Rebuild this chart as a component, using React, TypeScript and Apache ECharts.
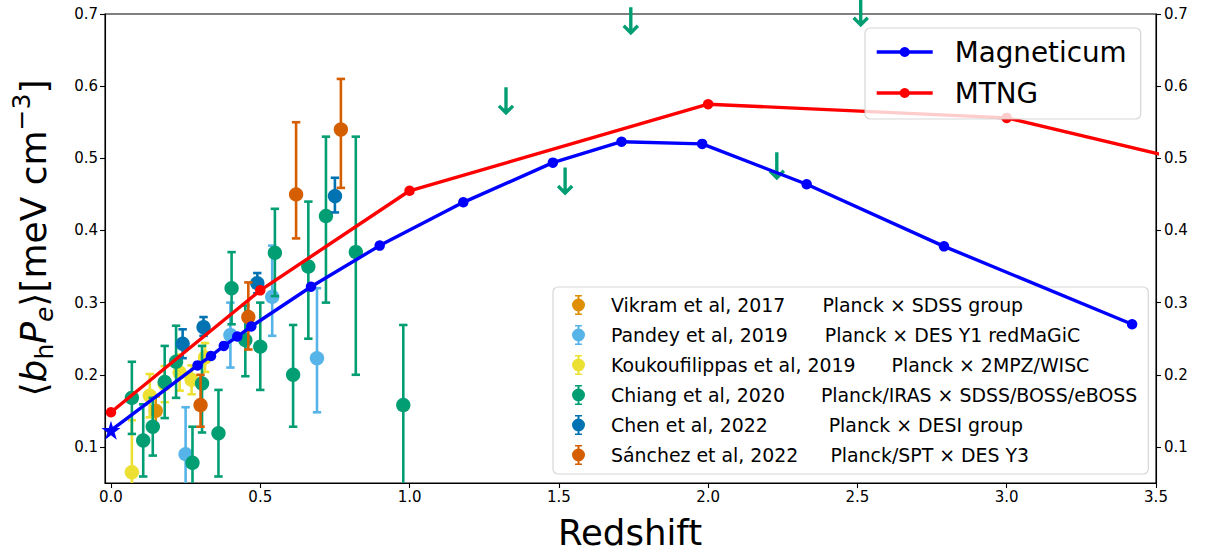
import React, { useEffect, useRef } from 'react';
import * as echarts from 'echarts';

const F = 'DejaVu Sans';

// axis ticks
const xTicks = [0, 0.5, 1.0, 1.5, 2.0, 2.5, 3.0, 3.5];
const yTicks = [0.1, 0.2, 0.3, 0.4, 0.5, 0.6, 0.7];

// simulations
const magZ = [0, 0.29, 0.335, 0.378, 0.423, 0.47, 0.67, 0.9, 1.18, 1.48, 1.71, 1.98, 2.33, 2.79, 3.42];
const magV = [0.123, 0.213, 0.226, 0.24, 0.253, 0.267, 0.322, 0.379, 0.439, 0.494, 0.523, 0.52, 0.464, 0.378, 0.27];
const mtngZ = [0, 0.5, 1.0, 2.0, 3.0, 4.0];
const mtngV = [0.148, 0.317, 0.455, 0.575, 0.556, 0.458];

// observations: redshift, value, lower error, upper error
const vikramZ = [0.15];
const vikramV = [0.15];
const vikramLo = [0.022];
const vikramHi = [0.02];

const pandeyZ = [0.25, 0.4, 0.54, 0.69];
const pandeyV = [0.09, 0.255, 0.308, 0.223];
const pandeyLo = [0.065, 0.045, 0.054, 0.075];
const pandeyHi = [0.065, 0.045, 0.071, 0.097];

const koukZ = [0.07, 0.13, 0.18, 0.23, 0.27, 0.315];
const koukV = [0.065, 0.171, 0.187, 0.203, 0.193, 0.224];
const koukLo = [0.072, 0.03, 0.025, 0.025, 0.02, 0.02];
const koukHi = [0.072, 0.03, 0.025, 0.025, 0.02, 0.02];

const chiangZ = [0.07, 0.108, 0.14, 0.18, 0.218, 0.273, 0.305, 0.36, 0.404, 0.45, 0.5, 0.549, 0.61, 0.661, 0.72, 0.82, 0.979];
const chiangV = [0.168, 0.109, 0.128, 0.19, 0.218, 0.078, 0.188, 0.119, 0.32, 0.248, 0.239, 0.369, 0.2, 0.35, 0.42, 0.37, 0.158];
const chiangLo = [0.05, 0.05, 0.04, 0.05, 0.05, 0.05, 0.068, 0.06, 0.05, 0.05, 0.06, 0.06, 0.072, 0.1, 0.12, 0.17, 0.11];
const chiangHi = [0.05, 0.05, 0.04, 0.05, 0.05, 0.05, 0.052, 0.06, 0.05, 0.048, 0.061, 0.061, 0.069, 0.09, 0.11, 0.16, 0.111];

const chenZ = [0.24, 0.31, 0.49, 0.75];
const chenV = [0.243, 0.267, 0.327, 0.449];
const chenLo = [0.02, 0.013, 0.014, 0.024];
const chenHi = [0.02, 0.013, 0.014, 0.024];

const sanchezZ = [0.3, 0.46, 0.62, 0.77];
const sanchezV = [0.158, 0.28, 0.45, 0.54];
const sanchezLo = [0.03, 0.045, 0.061, 0.081];
const sanchezHi = [0.042, 0.048, 0.1, 0.07];

// upper limits (Chiang et al.)
const limitZ = [1.323, 1.521, 1.741, 2.23, 2.511];
const limitV = [0.579, 0.468, 0.69, 0.489, 0.701];

const obsNames = [
  'Vikram et al, 2017',
  'Pandey et al, 2019',
  'Koukoufilippas et al, 2019',
  'Chiang et al, 2020',
  'Chen et al, 2022',
  'Sánchez et al, 2022',
];
const obsSurveys = [
  'Planck × SDSS group',
  'Planck × DES Y1 redMaGiC',
  'Planck × 2MPZ/WISC',
  'Planck/IRAS × SDSS/BOSS/eBOSS',
  'Planck × DESI group',
  'Planck/SPT × DES Y3',
];
const obsColors = ['#DE8F05', '#56B4E9', '#ECE133', '#029E73', '#0173B2', '#D55E00'];

const STAR = 'path://M50 0L61.17 34.63L97.55 34.55L68.07 55.87L79.39 90.45L50 69L20.61 90.45L31.93 55.87L2.45 34.55L38.83 34.63Z';
const ARROW = 'path://M6.8 0H10.2V21.6L14.4 17.4L16.8 19.8L8.5 28.1L0.2 19.8L2.6 17.4L6.8 21.6Z';
const EBAR = 'path://M5.5 0H7.5V20H5.5Z M3 0H10V1.6H3Z M3 18.4H10V20H3Z M0 10A6.5 6.5 0 1 1 13 10A6.5 6.5 0 1 1 0 10Z';

function rows(z: number[], v: number[], lo: number[], hi: number[]) {
  return z.map((zz, i) => [zz, v[i], lo[i], hi[i]]);
}

const obsData = [
  rows(vikramZ, vikramV, vikramLo, vikramHi),
  rows(pandeyZ, pandeyV, pandeyLo, pandeyHi),
  rows(koukZ, koukV, koukLo, koukHi),
  rows(chiangZ, chiangV, chiangLo, chiangHi),
  rows(chenZ, chenV, chenLo, chenHi),
  rows(sanchezZ, sanchezV, sanchezLo, sanchezHi),
];

const gapStyles = ['g37', 'g37', 'g36', 'g36', 'g61', 'g32'];

function errSeries(idx: number) {
  const color = obsColors[idx];
  return {
    type: 'custom',
    name: obsNames[idx],
    z: 2,
    clip: true,
    itemStyle: { color },
    encode: { x: 0, y: 1 },
    data: obsData[idx],
    renderItem: (params: any, api: any) => {
      const x = api.value(0);
      const y = api.value(1);
      const lo = api.value(2);
      const hi = api.value(3);
      const p = api.coord([x, y]);
      const t = api.coord([x, y + hi]);
      const b = api.coord([x, y - lo]);
      const cap = 4.2;
      return {
        type: 'group',
        children: [
          { type: 'line', shape: { x1: p[0], y1: t[1], x2: p[0], y2: b[1] }, style: { stroke: color, lineWidth: 2.6 } },
          { type: 'line', shape: { x1: p[0] - cap, y1: t[1], x2: p[0] + cap, y2: t[1] }, style: { stroke: color, lineWidth: 2.6 } },
          { type: 'line', shape: { x1: p[0] - cap, y1: b[1], x2: p[0] + cap, y2: b[1] }, style: { stroke: color, lineWidth: 2.6 } },
          { type: 'circle', shape: { cx: p[0], cy: p[1], r: 7.2 }, style: { fill: color } },
        ],
      };
    },
  };
}

export default function App() {
  const ref = useRef<HTMLDivElement>(null);
  useEffect(() => {
    if (!ref.current) return;
    const chart = echarts.init(ref.current, null, { renderer: 'svg' });
    const fmt1 = (v: number) => v.toFixed(1);
    const magData = magZ.map((z, i) =>
      i === 0 ? { value: [z, magV[i]], symbol: STAR, symbolSize: 19 } : [z, magV[i]]
    );
    const ls = 18.9;
    const rich2: any = {
      a: { fontSize: ls, fontFamily: F, color: '#000', padding: [0, 0, 0, 21] },
    };
    [32, 36, 37, 61].forEach((g) => {
      rich2['g' + g] = { fontSize: ls, fontFamily: F, color: '#000', padding: [0, 0, 0, g] };
    });
    const axisCommon = (pos: string, margin: number) => ({
      type: 'value',
      min: 0.05,
      max: 0.7,
      position: pos,
      axisLine: { show: true, onZero: false, lineStyle: { color: '#000', width: 1.1 } },
      axisTick: { show: true, inside: false, length: 5, customValues: yTicks, lineStyle: { color: '#000', width: 1.1 } },
      axisLabel: { show: true, customValues: yTicks, formatter: fmt1, color: '#000', fontSize: 15, fontFamily: F, margin },
      splitLine: { show: false },
    });
    const option: any = {
      animation: false,
      backgroundColor: '#fff',
      grid: { left: 105, right: 49, top: 14, bottom: 69, show: true, borderColor: '#000', borderWidth: 1.1, backgroundColor: 'transparent' },
      xAxis: {
        type: 'value',
        min: -0.02,
        max: 3.5,
        axisLine: { show: true, onZero: false, lineStyle: { color: '#000', width: 1.1 } },
        axisTick: { show: true, inside: false, length: 5, customValues: xTicks, lineStyle: { color: '#000', width: 1.1 } },
        axisLabel: { show: true, customValues: xTicks, formatter: fmt1, color: '#000', fontSize: 15, fontFamily: F, margin: 6 },
        splitLine: { show: false },
      },
      yAxis: [axisCommon('left', 7), axisCommon('right', 8)],
      legend: [
        {
          orient: 'vertical',
          left: 865,
          top: 28,
          padding: [10, 14, 12, 10],
          itemGap: 13,
          itemWidth: 56,
          itemHeight: 12.5,
          selectedMode: false,
          backgroundColor: 'rgba(255,255,255,0.8)',
          borderColor: 'rgba(204,204,204,0.8)',
          borderWidth: 1.2,
          borderRadius: 5,
          lineStyle: { width: 3.4 },
          data: ['Magneticum', 'MTNG'],
          formatter: (n: string) => `{a|${n}}`,
          textStyle: {
            fontSize: 27.8,
            fontFamily: F,
            color: '#000',
            rich: { a: { fontSize: 27.8, fontFamily: F, color: '#000', padding: [0, 0, 0, 17] } },
          },
        },
        {
          orient: 'vertical',
          left: 553,
          top: 287,
          padding: [8, 11, 9, 19],
          itemGap: 10,
          itemWidth: 13,
          itemHeight: 20,
          selectedMode: false,
          backgroundColor: 'rgba(255,255,255,0.8)',
          borderColor: 'rgba(204,204,204,0.8)',
          borderWidth: 1.2,
          borderRadius: 5,
          data: obsNames.map((n) => ({ name: n, icon: EBAR })),
          formatter: (n: string) => {
            const i = obsNames.indexOf(n);
            return `{a|${n}}{${gapStyles[i]}|${obsSurveys[i]}}`;
          },
          textStyle: { fontSize: ls, fontFamily: F, color: '#000', rich: rich2 },
        },
      ],
      graphic: [
        {
          type: 'text',
          x: 33,
          y: 238,
          rotation: Math.PI / 2,
          style: {
            text: '{n|⟨}{i|b}{sb|h}{i|P}{si|e}{n|⟩[meV cm}{sp|−3}{n|]}',
            align: 'center',
            verticalAlign: 'middle',
            fill: '#000',
            fontSize: 36,
            fontFamily: F,
            rich: {
              n: { fontSize: 36, fontFamily: F, fill: '#000', lineHeight: 48 },
              i: { fontSize: 36, fontFamily: F, fontStyle: 'italic', fill: '#000', lineHeight: 48 },
              sb: { fontSize: 25, fontFamily: F, fill: '#000', verticalAlign: 'bottom' },
              si: { fontSize: 25, fontFamily: F, fontStyle: 'italic', fill: '#000', verticalAlign: 'bottom' },
              sp: { fontSize: 25, fontFamily: F, fill: '#000', verticalAlign: 'top' },
            },
          },
        },
        {
          type: 'text',
          x: 630,
          y: 532,
          style: { text: 'Redshift', align: 'center', verticalAlign: 'middle', fill: '#000', fontSize: 35.5, fontFamily: F },
        },
      ],
      series: [
        ...obsNames.map((_, i) => errSeries(i)),
        {
          type: 'scatter',
          name: 'upper limits',
          z: 2,
          clip: false,
          symbol: ARROW,
          symbolSize: [16.5, 28],
          itemStyle: { color: '#029E73', opacity: 1 },
          data: limitZ.map((z, i) => [z, limitV[i]]),
        },
        {
          type: 'line',
          name: 'Magneticum',
          z: 4,
          symbol: 'circle',
          symbolSize: 10.5,
          lineStyle: { color: '#0000ff', width: 3.4 },
          itemStyle: { color: '#0000ff' },
          data: magData,
        },
        {
          type: 'line',
          name: 'MTNG',
          z: 3,
          clip: true,
          symbol: 'circle',
          symbolSize: 10.5,
          lineStyle: { color: '#ff0000', width: 3.4 },
          itemStyle: { color: '#ff0000' },
          data: mtngZ.map((z, i) => [z, mtngV[i]]),
        },
      ],
    };
    chart.setOption(option);
    return () => chart.dispose();
  }, []);
  return <div ref={ref} style={{ position: 'absolute', left: 0, top: 0, width: 1205, height: 552 }} />;
}
